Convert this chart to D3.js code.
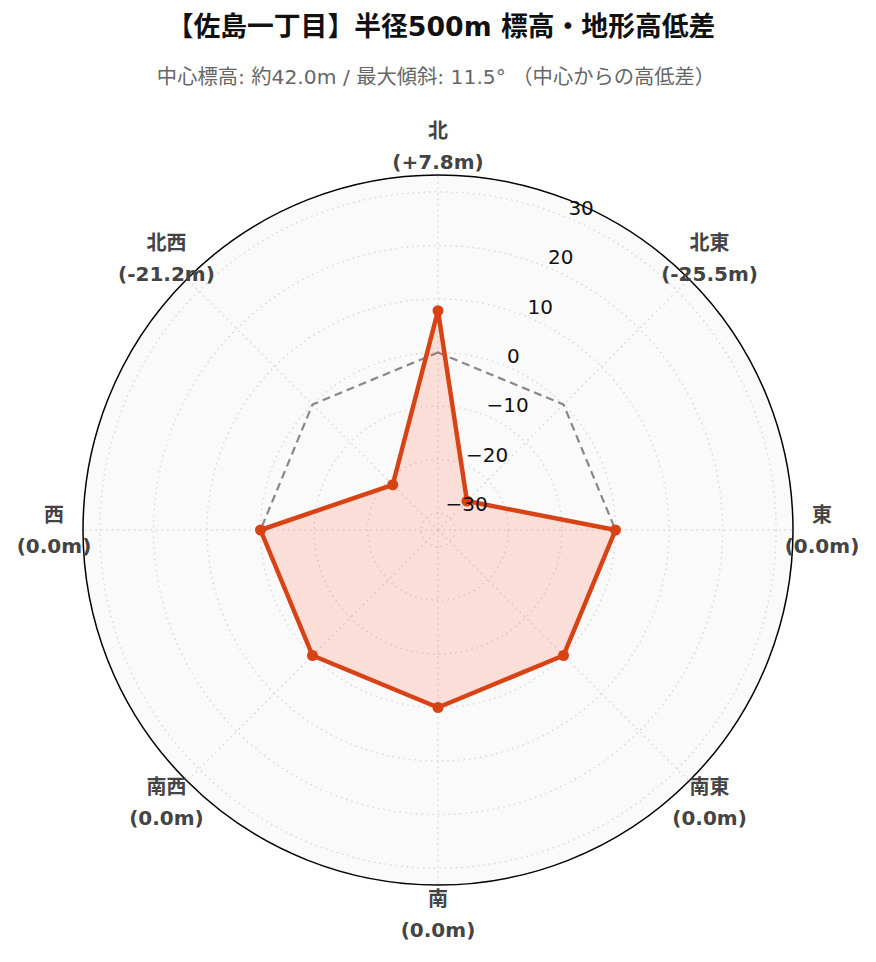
<!DOCTYPE html>
<html><head><meta charset="utf-8">
<script src="https://cdn.jsdelivr.net/npm/d3@7"></script>
<style>
html,body{margin:0;padding:0;background:#fff;}
svg{display:block;font-family:"DejaVu Sans","Noto Sans CJK JP",sans-serif;}
</style></head>
<body><svg id="chart" width="876" height="962"></svg>
<script>
const directions = ["北","北東","東","南東","南","南西","西","北西"];
const diffLabels = ["(+7.8m)","(-25.5m)","(0.0m)","(0.0m)","(0.0m)","(0.0m)","(0.0m)","(-21.2m)"];
const diffs = [7.8, -25.5, 0, 0, 0, 0, 0, -21.2];
const zeroRef = [0, 0, 0, 0, 0, 0, 0, 0];
const radialTicks = [-30, -20, -10, 0, 10, 20, 30];
const radialRange = [-33.15, 33.15];
const titleText = "【佐島一丁目】半径500m 標高・地形高低差";
const subtitleText = "中心標高: 約42.0m / 最大傾斜: 11.5° （中心からの高低差）";

const svg = d3.select("#chart");
const cx = 438, cy = 530, R = 355;
const r = d3.scaleLinear().domain(radialRange).range([0, R]);
const ang = d3.scalePoint().domain(directions).range([0, 2*Math.PI*7/8]);
const g = svg.append("g").attr("transform", `translate(${cx},${cy})`);

// background
g.append("circle").attr("r", R).attr("fill", "#fafafa");

// grid circles
g.selectAll(".gc").data(radialTicks).join("circle")
  .attr("r", d => r(d)).attr("fill", "none")
  .attr("stroke", "#d9d9d9").attr("stroke-width", 1.5).attr("stroke-dasharray", "1.5,4");
// angular grid lines
g.selectAll(".gl").data(directions).join("line")
  .attr("x1", 0).attr("y1", 0)
  .attr("x2", d => R*Math.sin(ang(d))).attr("y2", d => -R*Math.cos(ang(d)))
  .attr("stroke", "#d9d9d9").attr("stroke-width", 1.5).attr("stroke-dasharray", "1.5,4");

// outer circle
g.append("circle").attr("r", R).attr("fill", "none").attr("stroke", "#000").attr("stroke-width", 1.5);

const radial = d3.lineRadial().angle((d,i) => ang(directions[i])).radius(d => r(d)).curve(d3.curveLinearClosed);

// zero reference
g.append("path").datum(zeroRef).attr("d", radial)
  .attr("fill", "none").attr("stroke", "#888").attr("stroke-width", 2.2).attr("stroke-dasharray", "8,5");

// data
g.append("path").datum(diffs).attr("d", radial)
  .attr("fill", "rgba(255,95,60,0.18)").attr("stroke", "#d84315").attr("stroke-width", 4.5).attr("stroke-linejoin", "round");
g.selectAll(".pt").data(diffs).join("circle")
  .attr("cx", (d,i) => r(d)*Math.sin(ang(directions[i])))
  .attr("cy", (d,i) => -r(d)*Math.cos(ang(directions[i])))
  .attr("r", 5.5).attr("fill", "#d84315");

// radial tick labels along 22.5°
const ta = Math.PI/8;
g.selectAll(".rt").data(radialTicks).join("text")
  .attr("x", d => r(d)*Math.sin(ta) + 1)
  .attr("y", d => -r(d)*Math.cos(ta) - 10)
  .attr("dy", "0.35em")
  .attr("font-size", 20).attr("fill", "#111")
  .text(d => d < 0 ? "\u2212" + Math.abs(d) : d);

// angular labels
const LR = 384;
const al = g.selectAll(".al").data(directions).join("text")
  .attr("text-anchor", "middle").attr("font-size", 20).attr("font-weight", "bold").attr("fill", "#444")
  .attr("transform", d => `translate(${LR*Math.sin(ang(d))},${-LR*Math.cos(ang(d))})`);
al.append("tspan").attr("x", 0).attr("y", -8).text(d => d);
al.append("tspan").attr("x", 0).attr("y", 23).text((d,i) => diffLabels[i]);

// titles
svg.append("text").attr("x", 441).attr("y", 36).attr("text-anchor", "middle")
  .attr("font-size", 26.8).attr("font-weight", "bold").attr("fill", "#111").text(titleText);
svg.append("text").attr("x", 436).attr("y", 84).attr("text-anchor", "middle")
  .attr("font-size", 20.3).attr("fill", "#666").text(subtitleText);
</script>
</body></html>
